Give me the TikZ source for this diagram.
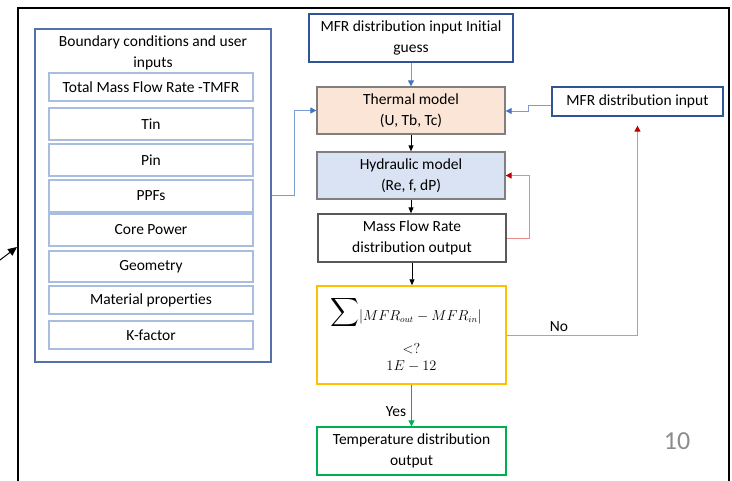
\documentclass[tikz,border=0pt]{standalone}
\usepackage{graphicx}
\usepackage{fontspec}
\setmainfont{Carlito}[Ligatures=NoCommon]
\usetikzlibrary{arrows.meta}
\definecolor{contblue}{HTML}{5472AA}
\definecolor{innerblue}{HTML}{A9BDE0}
\definecolor{darkblue}{HTML}{2F5597}
\definecolor{connblue}{HTML}{7A9BD6}
\definecolor{headblue}{HTML}{4472C4}
\definecolor{thermfill}{HTML}{FBE5D6}
\definecolor{hydfill}{HTML}{DAE3F3}
\definecolor{boxgray}{HTML}{7F7F7F}
\definecolor{redline}{HTML}{E68A8C}
\definecolor{redhead}{HTML}{C00000}
\definecolor{orangeb}{HTML}{FFC000}
\definecolor{greenb}{HTML}{00B050}
\definecolor{pagegray}{HTML}{8C8C8C}
\tikzset{
  txt/.style={font=\fontsize{15.5}{20.5}\selectfont, align=center, inner sep=0pt},
  inbox/.style={txt, draw=innerblue, line width=1.2pt, minimum width=204pt},
  flowbox/.style={txt, line width=1.3pt, minimum width=188pt, minimum height=47pt},
  blk/.style={draw=black, line width=0.8pt, -{Triangle[length=6pt,width=5pt]}},
  bluec/.style={draw=connblue, line width=1pt, -{Triangle[length=6pt,width=6pt,color=headblue]}},
  redc/.style={draw=redline, line width=1pt, -{Triangle[length=6pt,width=6pt,color=redhead]}},
  greenc/.style={draw=greenb, line width=0.8pt, -{Triangle[length=6pt,width=6pt]}},
}
\begin{document}
\begin{tikzpicture}[x=1pt,y=-1pt]
\useasboundingbox (0,0) rectangle (732,480);
% outer frame (runs off the bottom)
\draw[line width=1.5pt] (18,481) -- (18,8) -- (729,8) -- (729,481);
% left arrow
\coordinate (lfree) at (0,260);
\coordinate (ltip) at (17,247);
\draw[line width=1pt, -{Triangle[length=9pt,width=8pt]}] (lfree) -- (ltip);
% container
\node[draw=contblue, line width=1.5pt, minimum width=236pt, minimum height=333pt, inner sep=0pt] (bc) at (153,195.5) {};
\node[txt] (bctitle) at (153,53) {Boundary conditions and user\\inputs};
\node[inbox, minimum height=28pt] (tmfr) at (151,87) {Total Mass Flow Rate -TMFR};
\node[inbox, minimum height=32pt] (tin) at (151,124) {Tin};
\node[inbox, minimum height=32pt] (pin) at (151,160) {Pin};
\node[inbox, minimum height=32pt] (ppf) at (151,196) {PPFs};
\node[inbox, minimum height=32pt] (core) at (151,230) {Core Power};
\node[inbox, minimum height=31pt] (geo) at (151,266.5) {Geometry};
\node[inbox, minimum height=28pt] (mat) at (151,300) {Material properties};
\node[inbox, minimum height=28pt] (kf) at (151,335) {K-factor};
% flow boxes
\node[txt, draw=darkblue, line width=1.3pt, minimum width=204pt, minimum height=48pt] (init) at (411,38) {MFR distribution input Initial\\guess};
\node[flowbox, draw=boxgray, fill=thermfill] (therm) at (411,110.5) {Thermal model\\(U, Tb, Tc)};
\node[flowbox, draw=boxgray, fill=hydfill] (hyd) at (411,175.5) {Hydraulic model\\(Re, f, dP)};
\node[flowbox, draw=black!65, minimum height=48pt] (mout) at (412,238) {Mass Flow Rate\\distribution output};
\node[txt, draw=orangeb, line width=1.5pt, minimum width=189pt, minimum height=98pt] (check) at (411.5,335) {};
\node[inner sep=0pt, font=\fontsize{13.5}{16}\selectfont, anchor=base] (sumtxt) at (406,320) {\scalebox{2}{$\displaystyle\sum$}$|MFR_{out}-MFR_{in}|$};
\node[txt, font=\fontsize{13.5}{17}\selectfont] (lim) at (411.5,358) {$<?$\\$1E-12$};
\node[txt, draw=greenb, line width=1.3pt, minimum width=189pt, minimum height=48pt] (temp) at (411.5,451) {Temperature distribution\\output};
\node[txt, draw=darkblue, line width=1.3pt, minimum width=171pt, minimum height=29pt] (min) at (637.5,101.5) {MFR distribution input};
\node[font=\fontsize{26}{28}\selectfont, text=pagegray, inner sep=0pt] (pg) at (677,441) {10};
% connectors
\draw[bluec] (bc.east) -- ++(23,0) |- (therm.west);
\draw[bluec] (init.south) -- (therm.north);
\draw[bluec] (min.west |- {(0,105)}) -- (528,105) -- (528,111) -- (therm.east |- {(0,111)});
\draw[blk] (therm.south) -- (hyd.north);
\draw[blk] (hyd.south) -- (hyd.south |- mout.north);
\draw[blk] (mout.south) -- (mout.south |- check.north);
\draw[redc] (mout.east) -- ++(23,0) |- (hyd.east);
\draw[redc, shorten >=9pt] (check.east) -| (min.south);
\node[txt] (nolbl) at (559,327) {No};
\draw[greenc] (check.south) -- (temp.north);
\node[txt] (yeslbl) at (396,412) {Yes};
\end{tikzpicture}
\end{document}
